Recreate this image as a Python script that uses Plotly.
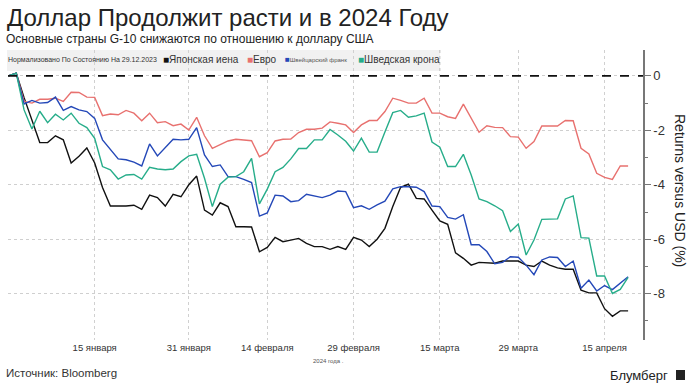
import pandas as pd
import plotly.graph_objects as go

dates = [d.strftime("%Y-%m-%d") for d in pd.bdate_range("2023-12-29", periods=80)]

jpy = [0, 0.1, -0.8, -1.6, -2.45, -2.45, -2.2, -2.35, -3.2, -2.95,
       -2.65, -3.2, -4.1, -4.78, -4.78, -4.78, -4.75, -4.9, -4.38, -4.47,
       -4.78, -4.35, -4.44, -4.0, -3.68, -4.93, -5.11, -4.66, -4.8, -5.54,
       -5.54, -5.55, -6.46, -6.3, -5.93, -6.09, -6.03, -5.97, -6.15, -6.27,
       -6.27, -6.37, -6.27, -6.37, -5.93, -6.03, -6.27, -6.0, -5.6, -4.8,
       -4.09, -3.98, -4.5, -4.52, -4.93, -5.33, -5.45, -6.5, -6.7, -6.95,
       -6.85, -6.87, -6.88, -6.8, -6.8, -6.8, -6.95, -7.0, -6.8, -6.95,
       -7.05, -7.1, -7.1, -7.87, -7.97, -7.97, -8.55, -8.83, -8.63, -8.63]

eur = [0, 0.1, -0.94, -1.0, -0.86, -0.86, -0.82, -0.94, -0.6, -0.61,
       -0.78, -0.79, -1.46, -1.4, -1.43, -1.27, -1.37, -1.65, -1.37, -1.72,
       -1.68, -1.83, -1.77, -1.99, -1.52, -2.2, -2.66, -2.54, -2.39, -2.33,
       -2.35, -2.38, -2.97, -2.82, -2.39, -2.33, -2.32, -2.08, -1.96, -1.96,
       -1.92, -1.69, -1.74, -1.8, -2.08, -1.8, -1.64, -1.64, -1.31, -0.82,
       -0.9, -1.0, -1.0, -0.82, -1.37, -1.37, -1.5, -1.56, -1.04, -1.56,
       -2.07, -1.83, -1.89, -1.9, -2.23, -2.25, -2.66, -2.41, -1.84, -1.84,
       -1.84, -1.64, -1.65, -2.66, -2.87, -3.58, -3.73, -3.8, -3.31, -3.31]

chf = [0, 0.1, -1.03, -0.9, -1.0, -0.98, -0.78, -1.27, -1.13, -1.25,
       -1.31, -1.56, -2.35, -2.72, -3.05, -3.08, -3.17, -3.31, -2.5, -2.94,
       -2.62, -2.33, -2.35, -2.33, -1.9, -2.9, -3.33, -3.27, -3.7, -3.7,
       -3.8, -3.92, -5.15, -5.03, -4.38, -4.41, -4.62, -4.58, -4.35, -4.4,
       -4.47, -4.38, -4.23, -4.25, -4.84, -4.77, -4.9, -4.74, -4.6, -4.15,
       -4.07, -4.07, -4.09, -4.25, -4.78, -4.8, -5.2, -5.26, -5.1, -6.2,
       -6.2, -6.45, -6.9, -6.85, -6.64, -6.66, -6.95, -7.3, -6.76, -6.65,
       -6.67, -7.0, -6.8, -7.8, -7.5, -7.9, -7.7, -7.85, -7.6, -7.38]

sek = [0, 0.1, -1.25, -1.95, -1.3, -1.72, -1.41, -1.62, -1.37, -1.74,
       -1.9, -2.29, -3.33, -3.45, -3.79, -3.64, -3.62, -3.79, -3.36, -3.42,
       -3.45, -3.42, -3.15, -2.94, -2.88, -3.76, -4.8, -3.98, -3.72, -3.7,
       -3.52, -3.03, -4.7, -4.16, -3.52, -3.36, -3.05, -2.67, -2.67, -2.35,
       -2.35, -1.97, -2.17, -2.4, -2.76, -2.29, -2.8, -2.8, -2.06, -1.35,
       -1.27, -1.52, -1.47, -1.37, -2.43, -2.62, -3.33, -3.33, -2.88, -3.64,
       -4.52, -4.62, -4.77, -4.95, -5.72, -5.44, -6.58, -6.03, -5.27, -5.26,
       -5.25, -4.52, -4.41, -5.94, -5.96, -7.35, -7.35, -7.99, -7.84, -7.4]

tick_dates = ["2024-01-15", "2024-01-31", "2024-02-14", "2024-02-29",
              "2024-03-15", "2024-03-29", "2024-04-15"]
tick_labels = ["15 января", "31 января", "14 февраля", "29 февраля",
               "15 марта", "29 марта", "15 апреля"]
y_ticks = [0, -2, -4, -6, -8]

series = [
    ("Японская иена", jpy, "#111111"),
    ("Евро", eur, "#e8716f"),
    ("Швейцарский франк", chf, "#2448b8"),
    ("Шведская крона", sek, "#27ad8a"),
]

W, H = 691, 389
L, R, T, B = 8, 643, 50, 340


def px(xp):
    return (xp - L) / (R - L)


def py(yp):
    return (B - yp) / (B - T)


fig = go.Figure()
for name, vals, col in series:
    fig.add_trace(go.Scatter(x=dates, y=vals, mode="lines", name=name,
                             line=dict(color=col, width=1.4), showlegend=False))

SANS = "Liberation Sans, Arial, sans-serif"

fig.update_layout(
    width=W, height=H,
    margin=dict(l=L, r=W - R, t=T, b=H - B),
    paper_bgcolor="white", plot_bgcolor="white",
    font=dict(family=SANS, color="#333"),
    xaxis=dict(type="category", range=[-0.05, 80.9], tickmode="array",
               tickvals=tick_dates, ticktext=tick_labels,
               showgrid=True, gridcolor="#d0d0d0", griddash="dot", gridwidth=1,
               showline=False, ticks="", zeroline=False,
               tickfont=dict(family=SANS, size=9.5, color="#333")),
    yaxis=dict(side="right", range=[-9.7, 0.95], tickmode="array",
               tickvals=y_ticks, ticktext=[str(v) for v in y_ticks],
               showgrid=True, gridcolor="#cfcfcf", griddash="dot", gridwidth=1,
               showline=True, linecolor="#777", linewidth=1.5,
               ticks="outside", ticklen=6, tickcolor="#777", tickwidth=1.2,
               minor=dict(dtick=1, ticks="outside", ticklen=3, tickcolor="#777",
                          showgrid=False),
               zeroline=False,
               tickfont=dict(family=SANS, size=13, color="#333")),
)

shapes = [
    # legend background box
    dict(type="rect", xref="paper", yref="paper", x0=px(7), x1=px(440),
         y0=py(71), y1=py(50), fillcolor="#f1f1f1", line=dict(width=0),
         layer="below"),
    dict(type="line", xref="paper", yref="paper", x0=px(440), x1=px(440),
         y0=py(71), y1=py(50), line=dict(color="#cfcfcf", width=1, dash="dot")),
    # zero reference line
    dict(type="line", xref="paper", yref="y", x0=0, x1=1, y0=0, y1=0,
         line=dict(color="#111", width=1.6, dash="dash")),
    # logo icon
    dict(type="rect", xref="paper", yref="paper", x0=px(676), x1=px(685),
         y0=py(380), y1=py(370), fillcolor="#222", line=dict(width=0)),
]
fig.update_layout(shapes=shapes)

ann = []


def add(text, x, y, size, color="#222", xanchor="left", angle=0):
    ann.append(dict(text=text, x=px(x), y=py(y), xref="paper", yref="paper",
                    showarrow=False, xanchor=xanchor, yanchor="middle",
                    textangle=angle,
                    font=dict(size=size, family=SANS, color=color)))


add("Доллар Продолжит расти и в 2024 Году", 5, 17, 24, color="#222")
add("Основные страны G-10 снижаются по отношению к доллару США", 4, 39, 12,
    color="#222")
add("Нормализовано По Состоянию На 29.12.2023", 6, 60, 7, color="#333")
add('<span style="color:#111">■</span>Японская иена', 161, 60, 10, color="#333")
add('<span style="color:#e8716f">■</span>Евро', 245, 60, 10, color="#333")
add('<span style="color:#2448b8">■</span><span style="font-size:6px">Швейцарский франк</span>',
    283, 60, 8, color="#555")
add('<span style="color:#27ad8a">■</span>Шведская крона', 356, 60, 10, color="#333")
add("Returns versus USD (%)", 680, 190, 14, color="#222", xanchor="center",
    angle=90)
add("2024 года .", 328, 361, 6, color="#555", xanchor="center")
add("Источник: Bloomberg", 4, 373, 11.5, color="#333")
add("Блумберг", 670, 375, 13, color="#222", xanchor="right")
fig.update_layout(annotations=ann)

fig.write_html("out.html",
               config={"displayModeBar": False},
               post_script="document.body.style.margin='0';"
                           "document.body.style.overflow='hidden';")
